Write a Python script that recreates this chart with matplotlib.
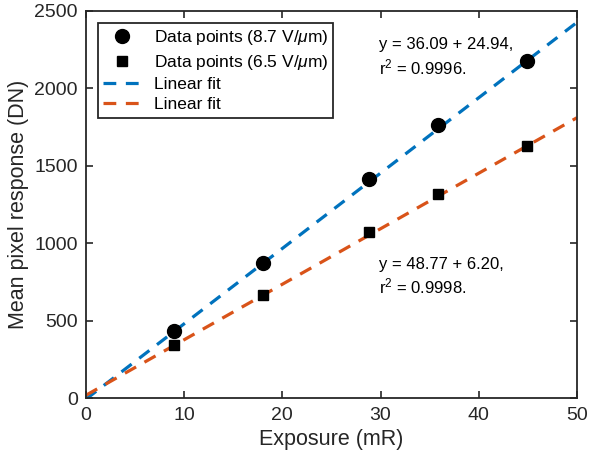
import numpy as np
import matplotlib
matplotlib.use("Agg")
import matplotlib.pyplot as plt

plt.rcParams['font.family'] = ['Liberation Sans', 'DejaVu Sans']
plt.rcParams['mathtext.fontset'] = 'custom'
plt.rcParams['mathtext.rm'] = 'Liberation Sans'
plt.rcParams['mathtext.it'] = 'Liberation Sans:italic'

# data
exposure = [9.0, 18.0, 28.8, 35.9, 44.9]
resp_87 = [434, 871, 1413, 1763, 2176]
resp_65 = [344, 666, 1075, 1318, 1628]

# fitted lines (slope, intercept) as drawn
fit_87 = (48.6, -5.0)
fit_65 = (35.8, 20.0)
fit_x = [0, 50]

label_87 = r'Data points (8.7 V/$\mu$m)'
label_65 = r'Data points (6.5 V/$\mu$m)'
text_87 = "y = 36.09 + 24.94,\nr$^2$ = 0.9996."
text_65 = "y = 48.77 + 6.20,\nr$^2$ = 0.9998."

blue = '#0072BD'
orange = '#D95319'
dark = '#262626'

fig = plt.figure(figsize=(5.9, 4.63), dpi=100)
ax = fig.add_axes([0.1458, 0.1397, 0.832, 0.837])

ax.plot(exposure, resp_87, 'o', color='black', markersize=10, label=label_87, zorder=3)
ax.plot(exposure, resp_65, 's', color='black', markersize=7.5, label=label_65, zorder=3)
fx = np.array(fit_x)
ax.plot(fx, fit_87[0] * fx + fit_87[1], '--', color=blue, lw=2.3, dashes=(4, 3), label='Linear fit')
ax.plot(fx, fit_65[0] * fx + fit_65[1], '--', color=orange, lw=2.3, dashes=(4, 3), label='Linear fit')

ax.text(29.8, 2200, text_87, fontsize=12, color='black', va='center', linespacing=1.3)
ax.text(29.8, 785, text_65, fontsize=12, color='black', va='center', linespacing=1.3)

ax.set_xlim(0, 50)
ax.set_ylim(0, 2500)
ax.set_xticks([0, 10, 20, 30, 40, 50])
ax.set_yticks([0, 500, 1000, 1500, 2000, 2500])
ax.tick_params(direction='in', top=True, right=True, labelsize=14, colors=dark,
               length=5, width=1.2, pad=6)
for s in ax.spines.values():
    s.set_linewidth(1.3)
    s.set_color(dark)
ax.set_xlabel('Exposure (mR)', fontsize=15.5, color=dark)
ax.set_ylabel('Mean pixel response (DN)', fontsize=15.5, color=dark)

leg = ax.legend(loc='upper left', bbox_to_anchor=(0.0244, 0.968), fontsize=12.5,
                fancybox=False, edgecolor=dark, framealpha=1, handlelength=2.2,
                borderpad=0.3, labelspacing=0.3, handletextpad=0.7, borderaxespad=0)
leg.get_frame().set_linewidth(1.3)

fig.savefig('out.png', dpi=100)
